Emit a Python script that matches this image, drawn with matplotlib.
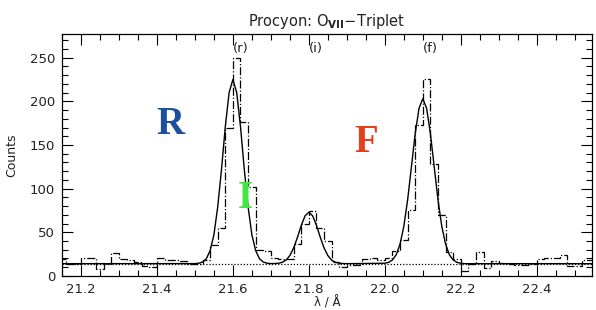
import numpy as np
import matplotlib
matplotlib.use('Agg')
import matplotlib.pyplot as plt
from matplotlib.ticker import MultipleLocator, FormatStrFormatter

plt.rcParams['font.family'] = ['DejaVu Sans']

# observed spectrum, 0.02 A bins starting at 21.14 A
bin_start = 21.14
bin_width = 0.02
counts = [19, 14, 14, 20, 20, 8, 14, 26, 19, 18,
          16, 11, 10, 20, 18, 18, 17, 14, 14, 18,
          35, 55, 169, 250, 176, 102, 30, 28, 21, 19,
          19, 37, 60, 74, 55, 40, 16, 10, 12, 13,
          19, 21, 18, 20, 28, 41, 75, 173, 225, 128,
          70, 27, 19, 6, 14, 27, 9, 17, 15, 14,
          13, 13, 14, 19, 20, 20, 24, 11, 11, 18,
          18]

# fitted model curve
fit_wave = [21.15,
            21.50, 21.51, 21.52, 21.53, 21.54, 21.55, 21.56, 21.57, 21.58, 21.59,
            21.60, 21.61, 21.62, 21.63, 21.64, 21.65, 21.66, 21.67, 21.68, 21.69,
            21.70, 21.71, 21.72, 21.73, 21.74, 21.75, 21.76, 21.77, 21.78, 21.79,
            21.80, 21.81, 21.82, 21.83, 21.84, 21.85, 21.86, 21.87, 21.88, 21.89,
            21.90,
            22.00, 22.01, 22.02, 22.03, 22.04, 22.05, 22.06, 22.07, 22.08, 22.09,
            22.10, 22.11, 22.12, 22.13, 22.14, 22.15, 22.16, 22.17, 22.18, 22.19,
            22.20, 22.21,
            22.55]
fit_counts = [14,
              14.1, 14.5, 15.9, 19.6, 29, 47, 79, 122, 171, 210,
              225, 210, 171, 122, 79, 47, 29, 19.6, 15.9, 14.5,
              14.1, 14.2, 14.5, 15.6, 18.1, 23.3, 32.1, 44.3, 57.9, 68.8,
              73, 68.8, 57.9, 44.3, 32.1, 23.3, 18.1, 15.6, 14.5, 14.2,
              14,
              14.5, 15.5, 18.2, 24.2, 36.3, 56.7, 87, 125, 163, 192,
              203, 192, 163, 125, 87, 56.7, 36.3, 24.2, 18.2, 15.5,
              14.5, 14,
              14]
background = 14

line_names = ['(r)', '(i)', '(f)']
line_wave = [21.60, 21.80, 22.10]

edges = np.round(bin_start + bin_width * np.arange(len(counts) + 1), 2)

fig = plt.figure(figsize=(5.96, 3.10), dpi=100)
ax = fig.add_axes([0.104, 0.110, 0.889, 0.780])

ax.stairs(counts, edges, color='black', lw=0.9, linestyle='-.', baseline=None)
ax.axhline(background, color='black', lw=0.9, linestyle=(0, (1, 1.5)))
ax.plot(fit_wave, fit_counts, color='black', lw=1.0)

for name, wl in zip(line_names, line_wave):
    ax.text(wl, 260, name, ha='left', va='center', fontsize=9.5, color='#222222')

big = dict(family='Liberation Serif', fontweight='bold', fontsize=28,
           ha='center', va='center')
ax.text(21.435, 173, 'R', color='#1c4f9c', **big)
ax.text(21.95, 153, 'F', color='#e5401c', **big)
ax.text(21.632, 89, 'I', color='#44e644', **big)

ax.set_xlim(21.15, 22.545)
ax.set_ylim(0, 277)
ax.xaxis.set_major_locator(MultipleLocator(0.2))
ax.xaxis.set_minor_locator(MultipleLocator(0.05))
ax.xaxis.set_major_formatter(FormatStrFormatter('%.1f'))
ax.yaxis.set_major_locator(MultipleLocator(50))
ax.yaxis.set_minor_locator(MultipleLocator(10))
ax.tick_params(which='both', direction='in', top=True, right=True,
               labelsize=9.5, labelcolor='#222222', width=0.8)
ax.tick_params(which='major', length=8, pad=5)
ax.tick_params(which='minor', length=4)
for s in ax.spines.values():
    s.set_linewidth(0.9)

ax.set_title(r'Procyon: O$_{\mathbf{VII}}$$-$Triplet', fontsize=10.5,
             color='#222222', pad=6)
ax.set_ylabel('Counts', fontsize=9, color='#222222', labelpad=8)
ax.set_xlabel('λ / Å', fontsize=8.5, color='#222222', labelpad=0)

fig.savefig('out.png', dpi=100)
